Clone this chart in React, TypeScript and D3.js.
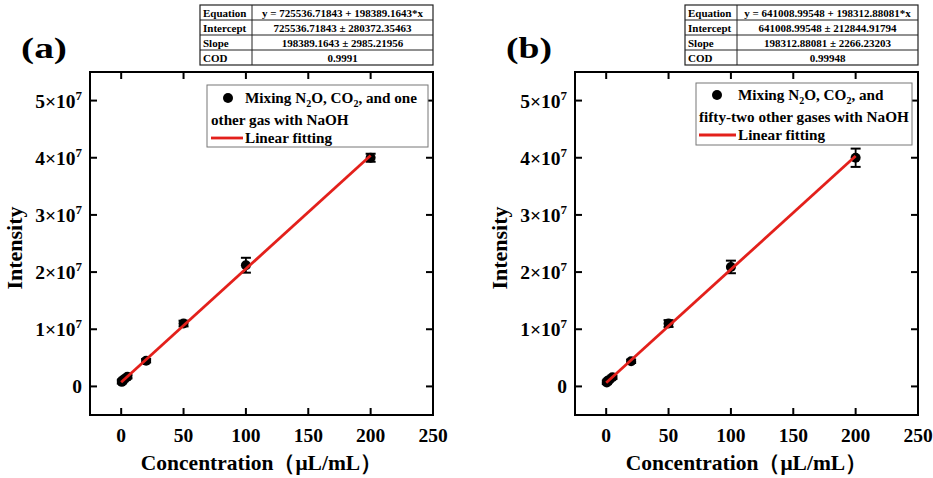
import React from "react";
import * as d3 from "d3";

const concA = [0.5, 1, 2, 5, 20, 50, 100, 200];
const intensityA = [0.08e7, 0.1e7, 0.12e7, 0.17e7, 0.45e7, 1.1e7, 2.12e7, 4.0e7];
const errA = [0.03e7, 0.03e7, 0.03e7, 0.03e7, 0.03e7, 0.05e7, 0.13e7, 0.07e7];

const concB = [0.5, 1, 2, 5, 20, 50, 100, 200];
const intensityB = [0.07e7, 0.09e7, 0.11e7, 0.16e7, 0.44e7, 1.1e7, 2.09e7, 4.0e7];
const errB = [0.03e7, 0.03e7, 0.03e7, 0.03e7, 0.03e7, 0.06e7, 0.11e7, 0.16e7];

const fitA = { intercept: 725536.71843, slope: 198389.1643 };
const fitB = { intercept: 641008.99548, slope: 198312.88081 };

const tableA = [
  ["Equation", "y = 725536.71843 + 198389.1643*x"],
  ["Intercept", "725536.71843 ± 280372.35463"],
  ["Slope", "198389.1643 ± 2985.21956"],
  ["COD", "0.9991"],
];
const tableB = [
  ["Equation", "y = 641008.99548 + 198312.88081*x"],
  ["Intercept", "641008.99548 ± 212844.91794"],
  ["Slope", "198312.88081 ± 2266.23203"],
  ["COD", "0.99948"],
];

const xTicks = [0, 50, 100, 150, 200, 250];
const yTicks = [0, 1, 2, 3, 4, 5];
const FONT = "'Liberation Serif', 'Times New Roman', serif";

type PanelProps = {
  ox: number;
  label: string;
  conc: number[];
  vals: number[];
  errs: number[];
  fit: { intercept: number; slope: number };
  table: string[][];
  legend: { line1: React.ReactNode; line2: string; box: [number, number, number, number]; markerX: number; textX: number; line2X: number; y1: number; y2: number; y3: number };
};

function Panel({ ox, label, conc, vals, errs, fit, table, legend }: PanelProps) {
  const left = ox, right = ox + 343, top = 72, bottom = 415;
  const x = d3.scaleLinear().domain([-25, 250]).range([left, right]);
  const y = d3.scaleLinear().domain([-0.5e7, 5.5e7]).range([bottom, top]);
  const line = d3.line<number>().x((d) => x(d)).y((d) => y(fit.intercept + fit.slope * d));
  const fitXs = [0, 200];
  const tk = 7;
  const tLeft = ox + 110, tRight = ox + 343, tSplit = ox + 162, tTop = 5, rowH = 15;
  return (
    <g style={{ fontFamily: FONT, fontWeight: "bold" }}>
      {/* table */}
      <g>
        <rect x={tLeft} y={tTop} width={tRight - tLeft} height={rowH * 4} fill="white" stroke="#222" strokeWidth={1.2} />
        {table.map((r, i) => (
          <g key={i}>
            {i > 0 && <line x1={tLeft} x2={tRight} y1={tTop + i * rowH} y2={tTop + i * rowH} stroke="#222" strokeWidth={1} />}
            <text x={tLeft + 3} y={tTop + i * rowH + 11.5} fontSize={11}>{r[0]}</text>
            <text x={(tSplit + tRight) / 2} y={tTop + i * rowH + 11.5} fontSize={11} textAnchor="middle">{r[1]}</text>
          </g>
        ))}
        <line x1={tSplit} x2={tSplit} y1={tTop} y2={tTop + rowH * 4} stroke="#222" strokeWidth={1} />
      </g>
      {/* panel label */}
      <text x={ox - 69} y={58} fontSize={29} textLength={46} lengthAdjust="spacingAndGlyphs">{label}</text>
      {/* frame */}
      <rect x={left} y={top} width={right - left} height={bottom - top} fill="none" stroke="black" strokeWidth={2} />
      {xTicks.map((t) => (
        <g key={"x" + t}>
          <line x1={x(t)} x2={x(t)} y1={bottom} y2={bottom - tk} stroke="black" strokeWidth={2} />
          <line x1={x(t)} x2={x(t)} y1={top} y2={top + tk} stroke="black" strokeWidth={2} />
          <text x={x(t)} y={442} fontSize={19.5} textAnchor="middle">{t}</text>
        </g>
      ))}
      {yTicks.map((t) => (
        <g key={"y" + t}>
          <line x1={left} x2={left + tk} y1={y(t * 1e7)} y2={y(t * 1e7)} stroke="black" strokeWidth={2} />
          <line x1={right} x2={right - tk} y1={y(t * 1e7)} y2={y(t * 1e7)} stroke="black" strokeWidth={2} />
          {t === 0 ? (
            <text x={left - 8} y={y(0) + 7} fontSize={19.5} textAnchor="end">0</text>
          ) : (
            <text x={left - 8} y={y(t * 1e7) + 7} fontSize={19.5} textAnchor="end">
              {t}×10<tspan fontSize={13} dy={-8}>7</tspan>
            </text>
          )}
        </g>
      ))}
      {/* axis titles */}
      <text x={(left + right) / 2} y={470} fontSize={21.5} textAnchor="middle">Concentration（μL/mL）</text>
      <text transform={`translate(${ox - 68},${248}) rotate(-90)`} fontSize={22} textAnchor="middle">Intensity</text>
      {/* error bars & points */}
      {conc.map((c, i) => (
        <g key={"p" + i}>
          <line x1={x(c)} x2={x(c)} y1={y(vals[i] - errs[i])} y2={y(vals[i] + errs[i])} stroke="black" strokeWidth={1.8} />
          <line x1={x(c) - 5} x2={x(c) + 5} y1={y(vals[i] - errs[i])} y2={y(vals[i] - errs[i])} stroke="black" strokeWidth={2} />
          <line x1={x(c) - 5} x2={x(c) + 5} y1={y(vals[i] + errs[i])} y2={y(vals[i] + errs[i])} stroke="black" strokeWidth={2} />
          <circle cx={x(c)} cy={y(vals[i])} r={5} fill="black" />
        </g>
      ))}
      <path d={line(fitXs) || ""} fill="none" stroke="#e3201b" strokeWidth={2.8} />
      {/* legend */}
      <rect x={legend.box[0]} y={legend.box[1]} width={legend.box[2]} height={legend.box[3]} fill="white" stroke="#777" strokeWidth={1} />
      <circle cx={legend.markerX} cy={legend.y1 - 5} r={5} fill="black" />
      <text x={legend.textX} y={legend.y1} fontSize={15.2}>{legend.line1}</text>
      <text x={legend.line2X} y={legend.y2} fontSize={15.2}>{legend.line2}</text>
      <line x1={legend.line2X} x2={legend.textX - 2} y1={legend.y3 - 5} y2={legend.y3 - 5} stroke="#e3201b" strokeWidth={2.8} />
      <text x={legend.textX} y={legend.y3} fontSize={15.2}>Linear fitting</text>
    </g>
  );
}

export default function App() {
  const sub = (s: string) => <tspan fontSize={10} dy={4}>{s}</tspan>;
  const line1A = (
    <>
      Mixing N{sub("2")}<tspan dy={-4}>O, CO</tspan>{sub("2")}<tspan dy={-4}>, and one</tspan>
    </>
  );
  const line1B = (
    <>
      Mixing N{sub("2")}<tspan dy={-4}>O, CO</tspan>{sub("2")}<tspan dy={-4}>, and</tspan>
    </>
  );
  return (
    <svg width={933} height={478} style={{ position: "absolute", left: 0, top: 0 }}>
      <rect width={933} height={478} fill="white" />
      <Panel
        ox={90}
        label="(a)"
        conc={concA}
        vals={intensityA}
        errs={errA}
        fit={fitA}
        table={tableA}
        legend={{ line1: line1A, line2: "other gas with NaOH", box: [207, 85, 221, 62], markerX: 228, textX: 245, line2X: 211, y1: 103, y2: 125, y3: 143 }}
      />
      <Panel
        ox={575}
        label="(b)"
        conc={concB}
        vals={intensityB}
        errs={errB}
        fit={fitB}
        table={tableB}
        legend={{ line1: line1B, line2: "fifty-two other gases with NaOH", box: [696, 83, 216, 62], markerX: 717, textX: 738, line2X: 699, y1: 100, y2: 122, y3: 140 }}
      />
    </svg>
  );
}
